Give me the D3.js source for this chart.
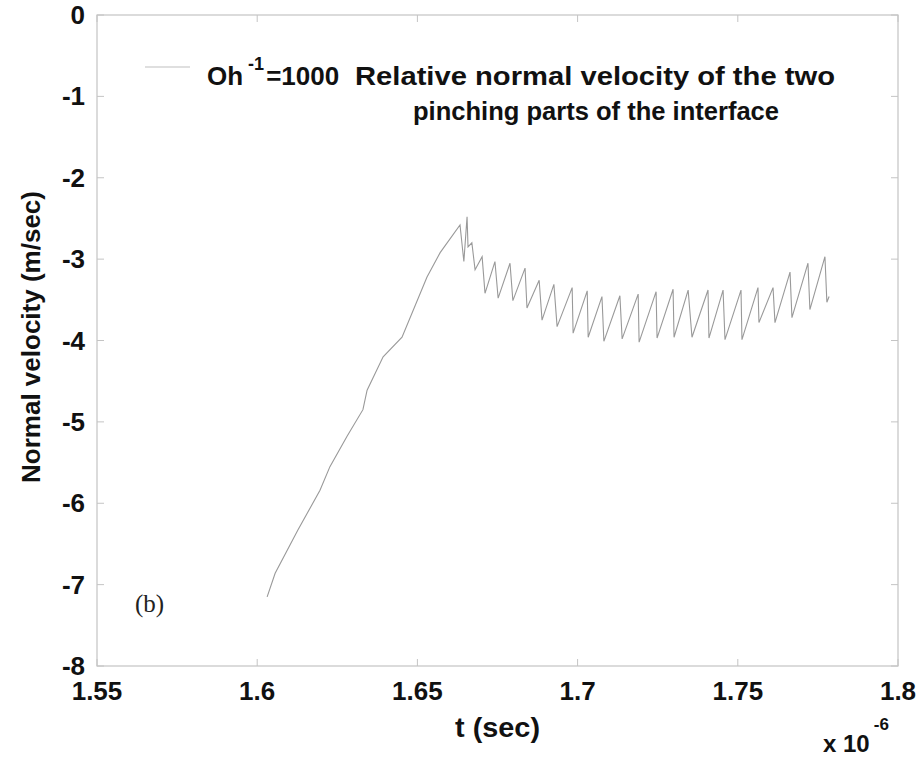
<!DOCTYPE html>
<html>
<head>
<meta charset="utf-8">
<script src="https://cdn.jsdelivr.net/npm/d3@7"></script>
<style>
  body { margin: 0; background: #fff; }
  svg { display: block; }
</style>
</head>
<body>
<script>
// time values in units of 1e-6 sec
var t = [1.6031, 1.6056, 1.6127, 1.6196, 1.6227, 1.6280, 1.6330, 1.6343, 1.6393, 1.6452,
  1.6530, 1.6571, 1.6633, 1.6645, 1.6655, 1.6658, 1.6670, 1.6680, 1.6702, 1.6711,
  1.6742, 1.6752, 1.6789, 1.6798, 1.6836, 1.6842, 1.6880, 1.6889, 1.6926, 1.6936,
  1.6983, 1.6986, 1.7030, 1.7033, 1.7076, 1.7082, 1.7132, 1.7139, 1.7189, 1.7192,
  1.7245, 1.7248, 1.7298, 1.7301, 1.7345, 1.7357, 1.7407, 1.7410, 1.7454, 1.7460,
  1.7510, 1.7513, 1.7563, 1.7566, 1.7610, 1.7616, 1.7663, 1.7669, 1.7719, 1.7725,
  1.7772, 1.7778, 1.7785];
// normal velocity, m/sec
var v = [-7.15, -6.86, -6.33, -5.84, -5.55, -5.18, -4.85, -4.61, -4.20, -3.96,
  -3.22, -2.92, -2.58, -3.03, -2.48, -2.85, -2.80, -3.13, -2.97, -3.42,
  -3.03, -3.48, -3.05, -3.51, -3.11, -3.60, -3.26, -3.75, -3.31, -3.83,
  -3.35, -3.91, -3.39, -3.96, -3.46, -4.01, -3.45, -3.98, -3.43, -4.02,
  -3.40, -3.97, -3.37, -3.96, -3.38, -3.96, -3.38, -3.97, -3.38, -3.99,
  -3.38, -3.99, -3.35, -3.78, -3.35, -3.78, -3.16, -3.72, -3.05, -3.62,
  -2.97, -3.53, -3.46];

var xTicks = [1.55, 1.6, 1.65, 1.7, 1.75, 1.8];
var xTickLabels = ["1.55", "1.6", "1.65", "1.7", "1.75", "1.8"];
var yTicks = [0, -1, -2, -3, -4, -5, -6, -7, -8];

var size = ({ width: 923, height: 757 });
var margin = ({ top: 15, right: 25, bottom: 91, left: 97 });
var font = "'Liberation Sans', Arial, sans-serif";
var axisColor = "#c4c4c4";

var svg = d3.select("body").append("svg")
  .attr("width", size.width)
  .attr("height", size.height)
  .style("background-color", "#fff");

var x = d3.scaleLinear().domain([1.55, 1.8]).range([margin.left, size.width - margin.right]);
var y = d3.scaleLinear().domain([-8, 0]).range([size.height - margin.bottom, margin.top]);

// box
svg.append("rect")
  .attr("x", x(1.55)).attr("y", y(0))
  .attr("width", x(1.8) - x(1.55)).attr("height", y(-8) - y(0))
  .attr("fill", "none").attr("stroke", axisColor).attr("stroke-width", 1.2);

// ticks (inward, on all four sides)
var tk = 7;
svg.append("g").selectAll("line").data(xTicks).enter().append("line")
  .attr("x1", function(d) { return x(d); }).attr("x2", function(d) { return x(d); })
  .attr("y1", y(-8)).attr("y2", y(-8) - tk)
  .attr("stroke", axisColor);
svg.append("g").selectAll("line").data(xTicks).enter().append("line")
  .attr("x1", function(d) { return x(d); }).attr("x2", function(d) { return x(d); })
  .attr("y1", y(0)).attr("y2", y(0) + tk)
  .attr("stroke", axisColor);
svg.append("g").selectAll("line").data(yTicks).enter().append("line")
  .attr("x1", x(1.55)).attr("x2", x(1.55) + tk)
  .attr("y1", function(d) { return y(d); }).attr("y2", function(d) { return y(d); })
  .attr("stroke", axisColor);
svg.append("g").selectAll("line").data(yTicks).enter().append("line")
  .attr("x1", x(1.8)).attr("x2", x(1.8) - tk)
  .attr("y1", function(d) { return y(d); }).attr("y2", function(d) { return y(d); })
  .attr("stroke", axisColor);

// tick labels
svg.append("g").selectAll("text").data(xTicks).enter().append("text")
  .attr("x", function(d) { return x(d); })
  .attr("y", y(-8) + 34)
  .attr("text-anchor", "middle")
  .style("font-family", font).style("font-weight", "bold").style("font-size", "26px")
  .attr("fill", "#111")
  .text(function(d, i) { return xTickLabels[i]; });

svg.append("g").selectAll("text").data(yTicks).enter().append("text")
  .attr("x", x(1.55) - 12)
  .attr("y", function(d) { return y(d) + 9; })
  .attr("text-anchor", "end")
  .style("font-family", font).style("font-weight", "bold").style("font-size", "26px")
  .attr("fill", "#111")
  .text(function(d) { return d; });

// axis titles
svg.append("text")
  .attr("transform", "translate(40,337) rotate(-90)")
  .attr("text-anchor", "middle")
  .attr("textLength", 292).attr("lengthAdjust", "spacingAndGlyphs")
  .style("font-family", font).style("font-weight", "bold").style("font-size", "26px")
  .attr("fill", "#111")
  .text("Normal velocity (m/sec)");

svg.append("text")
  .attr("x", 455)
  .attr("y", 737)
  .attr("textLength", 85).attr("lengthAdjust", "spacingAndGlyphs")
  .style("font-family", font).style("font-weight", "bold").style("font-size", "27px")
  .attr("fill", "#111")
  .text("t (sec)");

var mult = svg.append("text")
  .attr("x", 823).attr("y", 752)
  .style("font-family", font).style("font-weight", "bold").style("font-size", "24px")
  .attr("fill", "#111");
mult.append("tspan").text("x 10");
mult.append("tspan").attr("dx", 4).attr("dy", -22).style("font-size", "17px").text("-6");

// data line
var pts = t.map(function(d, i) { return [d, v[i]]; });
var line = d3.line()
  .x(function(d) { return x(d[0]); })
  .y(function(d) { return y(d[1]); });

svg.append("path")
  .datum(pts)
  .attr("d", line)
  .attr("fill", "none")
  .attr("stroke", "#999")
  .attr("stroke-width", 1.1);

// legend
svg.append("line")
  .attr("x1", 145).attr("x2", 190).attr("y1", 67).attr("y2", 67)
  .attr("stroke", "#d4d4d4").attr("stroke-width", 1.5);

var leg = svg.append("text")
  .attr("x", 207).attr("y", 85)
  .style("font-family", font).style("font-weight", "bold").style("font-size", "26px")
  .attr("fill", "#111");
leg.append("tspan").text("Oh");
leg.append("tspan").attr("dx", 5).attr("dy", -15).style("font-size", "18px").text("-1");
leg.append("tspan").attr("dx", 2).attr("dy", 15).text("=1000");

svg.append("text")
  .attr("x", 355).attr("y", 85)
  .attr("textLength", 480).attr("lengthAdjust", "spacingAndGlyphs")
  .style("font-family", font).style("font-weight", "bold").style("font-size", "26px")
  .attr("fill", "#111")
  .text("Relative normal velocity of the two");

svg.append("text")
  .attr("x", 413).attr("y", 120)
  .attr("textLength", 366).attr("lengthAdjust", "spacingAndGlyphs")
  .style("font-family", font).style("font-weight", "bold").style("font-size", "26px")
  .attr("fill", "#111")
  .text("pinching parts of the interface");

// panel label
svg.append("text")
  .attr("x", 135).attr("y", 612)
  .style("font-family", "'Liberation Serif', 'Times New Roman', serif").style("font-size", "25px")
  .attr("fill", "#222")
  .text("(b)");
</script>
</body>
</html>
